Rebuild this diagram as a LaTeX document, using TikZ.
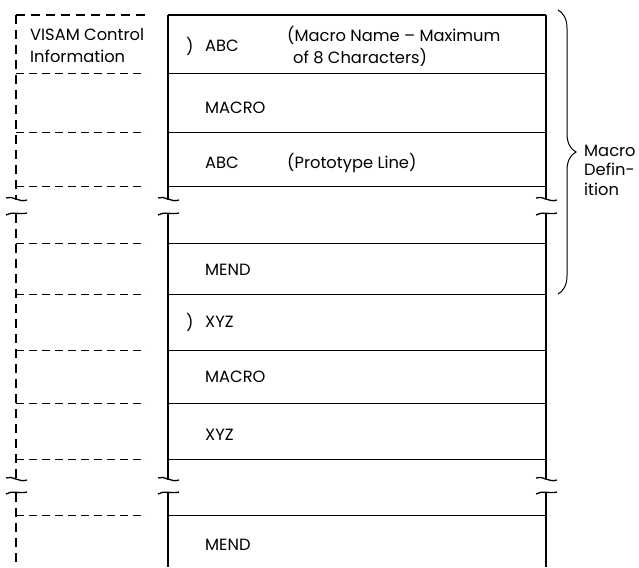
\documentclass[tikz,border=0pt]{standalone}
\usepackage{fontspec}
\setmainfont{Poppins}
\usetikzlibrary{decorations.pathreplacing}
\tikzstyle{lbl}=[anchor=west, inner sep=0pt, align=left, font=\fontsize{16.3}{22}\selectfont]
\tikzstyle{side}=[anchor=west, inner sep=0pt, align=left, font=\fontsize{16.3}{19.5}\selectfont]
\tikzstyle{row}=[line width=0.8pt]
\tikzstyle{rowd}=[line width=0.8pt, dash pattern=on 8pt off 5pt]
\tikzstyle{wall}=[line width=1.6pt]
\tikzstyle{walld}=[line width=1.5pt, dash pattern=on 9pt off 6pt]
\newcommand{\cutmark}[3]{%
\draw[line width=1.3pt] ({#1-10},{#2-2}) .. controls ({#1-4},{#2-5}) and ({#1+3},{#2+3}) .. ({#1+11},{#2});
\draw[line width=1.3pt] ({#1-10},{#3+1}) .. controls ({#1-4},{#3-3}) and ({#1+3},{#3+1}) .. ({#1+11},{#3-1});
}

\begin{document}
\begin{tikzpicture}[x=1pt, y=-1pt]
\useasboundingbox (0,0) rectangle (639,567);

% outer walls
\draw[walld] (16,15) -- (148,15);
\draw[walld] (16,15) -- (16,200);
\draw[walld] (16,214) -- (16,480);
\draw[walld] (16,493) -- (16,567);
\draw[wall] (168,15) -- (546,15);
\foreach \x in {168,546}{
  \draw[wall] (\x,15) -- (\x,200);
  \draw[wall] (\x,214) -- (\x,480);
  \draw[wall] (\x,493) -- (\x,567);
  \cutmark{\x}{200}{214}
  \cutmark{\x}{480}{493}
}
\cutmark{16}{200}{214}
\cutmark{16}{480}{493}

% rows
\foreach \y in {73,132,186,243,294,350,403,459,515}{
  \draw[rowd] (16,\y) -- (146,\y);
  \draw[row] (168,\y) -- (546,\y);
}

\node[lbl] (vis) at (30,46) {VISAM Control\\Information};

\node[lbl] (p1) at (186,46) {)};
\node[lbl] (abc1) at (205,46) {ABC};
\node[lbl] (note1) at (287,46) {(Macro Name -- Maximum\\\hspace*{6pt}of 8 Characters)};
\node[lbl] (mac1) at (205,108) {MACRO};
\node[lbl] (abc2) at (205,163) {ABC};
\node[lbl] (note2) at (287,163) {(Prototype Line)};
\node[lbl] (mend1) at (205,270) {MEND};

\node[lbl] (p2) at (186,322) {)};
\node[lbl] (xyz1) at (205,322) {XYZ};
\node[lbl] (mac2) at (205,377) {MACRO};
\node[lbl] (xyz2) at (205,435) {XYZ};
\node[lbl] (mend2) at (205,545) {MEND};

% brace
\draw[line width=1pt, decorate, decoration={brace, amplitude=18pt}] (558,10) -- (558,294);
\node[side] (mdef) at (584,170) {Macro\\Defin-\\ition};

\end{tikzpicture}
\end{document}
